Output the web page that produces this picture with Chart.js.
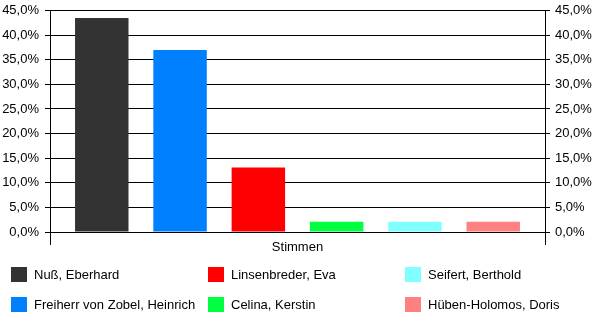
<!DOCTYPE html>
<html>
<head>
<meta charset="utf-8">
<script src="https://cdn.jsdelivr.net/npm/chart.js@4"></script>
<style>
  html, body { margin: 0; padding: 0; background: #fff; }
  #wrap { position: relative; width: 600px; height: 326px; }
  #legend { position: absolute; left: 0; top: 0; width: 600px; height: 326px; pointer-events: none; }
  .item { position: absolute; font: 13px "Liberation Sans", Arial, sans-serif; color: #000; white-space: nowrap; }
  .box { position: absolute; width: 16px; height: 15px; }
  .txt { position: absolute; left: 23px; top: 0px; line-height: 16px; }
</style>
</head>
<body>
<div id="wrap">
  <canvas id="chart" width="600" height="326"></canvas>
  <div id="legend"></div>
</div>
<script>
// Daten
const categories = ['Stimmen'];
const candidates = ['Nuß, Eberhard', 'Freiherr von Zobel, Heinrich', 'Linsenbreder, Eva', 'Celina, Kerstin', 'Seifert, Berthold', 'Hüben-Holomos, Doris'];
const shares = [43.5, 37.0, 13.1, 2.1, 2.1, 2.1];
const colors = ['#333333', '#0080ff', '#ff0000', '#00ff40', '#80ffff', '#ff8080'];
const yMin = 0;
const yMax = 45;
const yStep = 5;

const fmt = v => v.toFixed(1).replace('.', ',') + '%';
const font = { family: '"Liberation Sans", Arial, sans-serif', size: 13 };
// kleinere Zeilenhoehe, damit die 45%-Linie weiter oben liegt
const yFont = { family: '"Liberation Sans", Arial, sans-serif', size: 13, lineHeight: 0.7 };

const datasets = candidates.map((name, i) => ({
  label: name,
  data: [shares[i]],
  backgroundColor: colors[i],
  borderWidth: 0,
  categoryPercentage: 0.949,
  barPercentage: 0.683
}));

new Chart(document.getElementById('chart'), {
  type: 'bar',
  data: { labels: categories, datasets: datasets },
  options: {
    responsive: false,
    animation: false,
    layout: { padding: 0 },
    plugins: { legend: { display: false }, tooltip: { enabled: false } },
    scales: {
      x: {
        grid: { drawOnChartArea: false, drawTicks: true, tickLength: 13, color: '#000', offset: true },
        border: { color: '#000' },
        ticks: { color: '#000', font: font, padding: -5 },
        afterFit: s => { s.height = 94; }
      },
      y: {
        position: 'left',
        min: yMin, max: yMax,
        ticks: { stepSize: yStep, color: '#000', font: yFont, padding: 6, callback: fmt },
        grid: { color: '#000', tickLength: 5 },
        border: { color: '#000' },
        afterFit: s => { s.width = 50; }
      },
      y2: {
        position: 'right',
        min: yMin, max: yMax,
        ticks: { stepSize: yStep, color: '#000', font: yFont, padding: 5, callback: fmt },
        grid: { drawOnChartArea: false, color: '#000', tickLength: 5 },
        border: { color: '#000' },
        afterFit: s => { s.width = 55; }
      }
    }
  }
});

// Legende in drei Spalten
const legend = document.getElementById('legend');
const colX = [11, 208, 405];
const rowY = [267, 297];
candidates.forEach((name, i) => {
  const item = document.createElement('div');
  item.className = 'item';
  item.style.left = colX[Math.floor(i / 2)] + 'px';
  item.style.top = rowY[i % 2] + 'px';
  item.innerHTML = '<div class="box" style="background:' + colors[i] + '"></div><div class="txt"></div>';
  item.querySelector('.txt').textContent = name;
  legend.appendChild(item);
});
</script>
</body>
</html>
